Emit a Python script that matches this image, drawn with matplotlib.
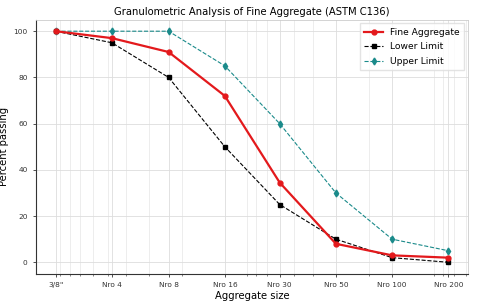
import numpy as np
import matplotlib.pyplot as plt
from matplotlib.ticker import FixedLocator, NullFormatter, LogLocator

# Sieve openings (mm) and their names
sieve_mm = [9.5, 4.75, 2.36, 1.18, 0.6, 0.3, 0.15, 0.075]
sieve_names = ['3/8"', 'Nro 4', 'Nro 8', 'Nro 16', 'Nro 30', 'Nro 50', 'Nro 100', 'Nro 200']

# Percent passing
fine_aggregate = [100, 97, 91, 72, 34.5, 8, 3, 2]
lower_limit = [100, 95, 80, 50, 25, 10, 2, 0]
upper_limit = [100, 100, 100, 85, 60, 30, 10, 5]

fig = plt.figure(figsize=(4.8, 3.07), dpi=100)
ax = fig.add_axes([0.075, 0.108, 0.90, 0.828])

ax.plot(sieve_mm, fine_aggregate, color='#e3191c', lw=1.6, marker='o', ms=3.5,
        label='Fine Aggregate', zorder=4)
ax.plot(sieve_mm, lower_limit, color='black', lw=0.8, ls='--', marker='s', ms=3.5,
        label='Lower Limit', zorder=3)
ax.plot(sieve_mm, upper_limit, color='#1a8a8a', lw=0.8, ls='--', marker='d', ms=3.5,
        label='Upper Limit', zorder=3)

ax.set_xscale('log')
ax.invert_xaxis()
ax.xaxis.set_major_locator(FixedLocator(sieve_mm))
ax.set_xticklabels(sieve_names)
ax.xaxis.set_minor_locator(LogLocator(base=10, subs=np.arange(2, 10)))
ax.xaxis.set_minor_formatter(NullFormatter())

ax.set_yticks([0, 20, 40, 60, 80, 100])
ax.set_ylim(-5, 105)

ax.grid(True, which='major', color='#dddddd', lw=0.6)
ax.grid(True, which='minor', axis='x', color='#e6e6e6', lw=0.5)
ax.set_axisbelow(True)

ax.tick_params(axis='both', which='major', labelsize=5.3, colors='#333333', length=2.5, width=0.6)
ax.tick_params(axis='x', which='minor', length=1.5, width=0.5, colors='#555555')

for side in ['top', 'right']:
    ax.spines[side].set_color('#cccccc')
    ax.spines[side].set_linewidth(0.6)
for side in ['left', 'bottom']:
    ax.spines[side].set_color('#333333')
    ax.spines[side].set_linewidth(0.8)

ax.set_title('Granulometric Analysis of Fine Aggregate (ASTM C136)', fontsize=7.2, pad=3)
ax.set_xlabel('Aggregate size', fontsize=7.2, labelpad=2)
ax.set_ylabel('Percent passing', fontsize=7.2, labelpad=3)

leg = ax.legend(loc='upper right', fontsize=6.6, frameon=True, fancybox=False,
                edgecolor='#dddddd', handlelength=2.0, borderpad=0.5, labelspacing=0.6,
                borderaxespad=0.4)

fig.savefig('out.png', dpi=100)
